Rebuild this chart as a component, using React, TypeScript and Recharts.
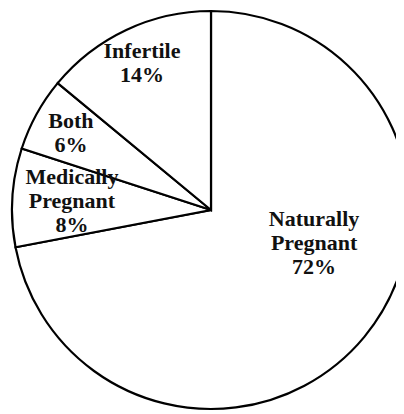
import { Cell, Pie, PieChart } from "recharts";

const CATEGORIES = ["Naturally Pregnant", "Medically Pregnant", "Both", "Infertile"];
const SHARES = [72, 8, 6, 14];

// label placement per slice: fraction of the radius, and shift from the slice mid angle (deg)
const LABEL_RADIUS = [0.544, 0.7, 0.803, 0.814];
const LABEL_SHIFT = [21.8, 0, 0, 0];

const data = CATEGORIES.map((name, i) => ({ name, value: SHARES[i] }));

const RAD = Math.PI / 180;
const LINE_H = 24;
const FONT = "Liberation Serif, DejaVu Serif, serif";

function renderLabel(props: any) {
  const { cx, cy, midAngle, outerRadius, index, name, value } = props;
  const angle = midAngle + LABEL_SHIFT[index];
  const r = outerRadius * LABEL_RADIUS[index];
  const x = cx + r * Math.cos(-angle * RAD);
  const y = cy + r * Math.sin(-angle * RAD);
  const lines = [...String(name).split(" "), `${value}%`];
  const firstY = y - ((lines.length - 1) / 2) * LINE_H + 7;
  return (
    <g key={`label-${index}`}>
      <text
        x={x}
        y={firstY}
        textAnchor="middle"
        fill="#111"
        fontFamily={FONT}
        fontWeight="bold"
        fontSize={22}
      >
        {lines.map((line, i) => (
          <tspan key={line} x={x} dy={i === 0 ? 0 : LINE_H} fontFamily={FONT}>
            {line}
          </tspan>
        ))}
      </text>
    </g>
  );
}

export default function App() {
  return (
    <PieChart width={396} height={406} margin={{ top: 0, right: 0, bottom: 0, left: 0 }}>
      <Pie
        data={data}
        dataKey="value"
        nameKey="name"
        cx={203}
        cy={202}
        outerRadius={199}
        startAngle={90}
        endAngle={-270}
        stroke="#000"
        strokeWidth={2.2}
        label={renderLabel}
        labelLine={false}
        isAnimationActive={false}
      >
        {data.map((entry) => (
          <Cell key={entry.name} fill="#fff" />
        ))}
      </Pie>
    </PieChart>
  );
}
